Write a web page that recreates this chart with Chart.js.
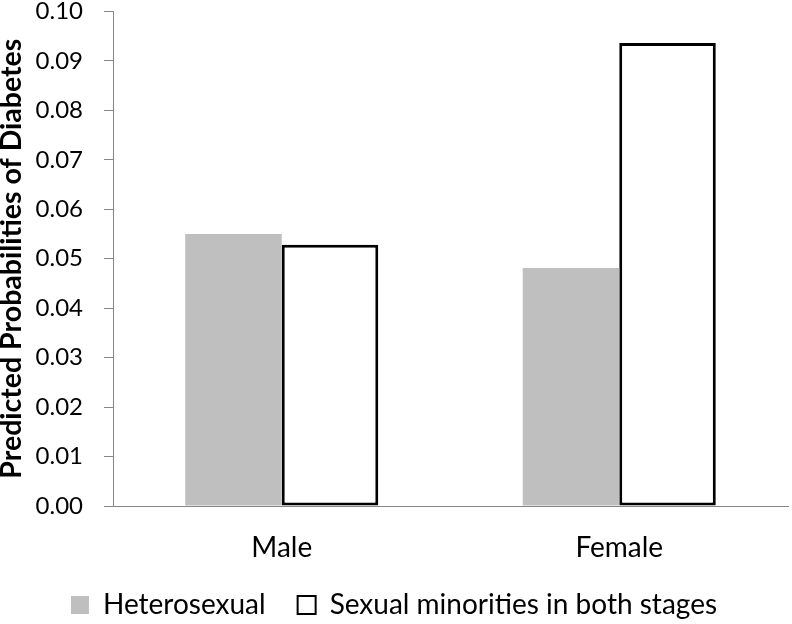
<!DOCTYPE html>
<html>
<head>
<meta charset="utf-8">
<script src="https://cdn.jsdelivr.net/npm/chart.js@4/dist/chart.umd.min.js"></script>
<style>
html,body{margin:0;padding:0;background:#fff;}
#wrap{width:792px;height:624px;}
</style>
</head>
<body>
<div id="wrap"><canvas id="c" width="792" height="624"></canvas></div>
<script>
const categories = ["Male", "Female"];
const heterosexual = [0.0550, 0.0481];
const sexualMinorities = [0.0528, 0.0936];
const seriesNames = ["Heterosexual", "Sexual minorities in both stages"];
const yTitle = "Predicted Probabilities of Diabetes";

const FONT = "Lato";

new Chart(document.getElementById("c"), {
  type: "bar",
  data: {
    labels: categories,
    datasets: [
      {
        label: seriesNames[0],
        data: heterosexual,
        backgroundColor: "#bfbfbf",
        borderColor: "#bfbfbf",
        borderWidth: 0,
        barPercentage: 1.0,
        categoryPercentage: 0.572
      },
      {
        label: seriesNames[1],
        data: sexualMinorities,
        backgroundColor: "#ffffff",
        borderColor: "#000000",
        borderWidth: 3,
        borderSkipped: false,
        barPercentage: 1.0,
        categoryPercentage: 0.572
      }
    ]
  },
  options: {
    responsive: false,
    animation: false,
    devicePixelRatio: 1,
    layout: { padding: { top: 0, right: 4, bottom: -5, left: 0 } },
    plugins: {
      tooltip: { enabled: false },
      legend: {
        position: "bottom",
        labels: {
          font: { family: FONT, size: 28 },
          color: "#000",
          boxWidth: 18,
          boxHeight: 18,
          padding: 32,
          generateLabels: (chart) => chart.data.datasets.map((ds, i) => ({
            text: ds.label,
            fillStyle: ds.backgroundColor,
            strokeStyle: i === 0 ? ds.backgroundColor : "#000",
            lineWidth: i === 0 ? 0 : 2,
            datasetIndex: i,
            fontColor: "#000"
          }))
        }
      }
    },
    scales: {
      x: {
        grid: { display: false, drawTicks: false },
        border: { display: true, color: "#868686", width: 1 },
        ticks: { font: { family: FONT, size: 28, lineHeight: 1 }, color: "#000", padding: 28 },
        afterFit: (s) => { s.height = 53; }
      },
      y: {
        min: 0,
        max: 0.10,
        ticks: {
          stepSize: 0.01,
          font: { family: FONT, size: 24, lineHeight: 0.95 },
          color: "#000",
          padding: 0,
          callback: (v) => Number(v).toFixed(2)
        },
        grid: {
          drawOnChartArea: false,
          drawTicks: true,
          tickLength: 30,
          tickBorderDash: [0, 21, 9, 100],
          color: "#868686"
        },
        border: { display: true, color: "#868686", width: 1 },
        title: {
          display: true,
          text: yTitle,
          font: { family: FONT, size: 28.5, weight: "bold", lineHeight: 1 },
          color: "#000",
          padding: { top: -2, bottom: 0 }
        },
        afterFit: (s) => { s.width = 113; }
      }
    }
  }
});
</script>
</body>
</html>
